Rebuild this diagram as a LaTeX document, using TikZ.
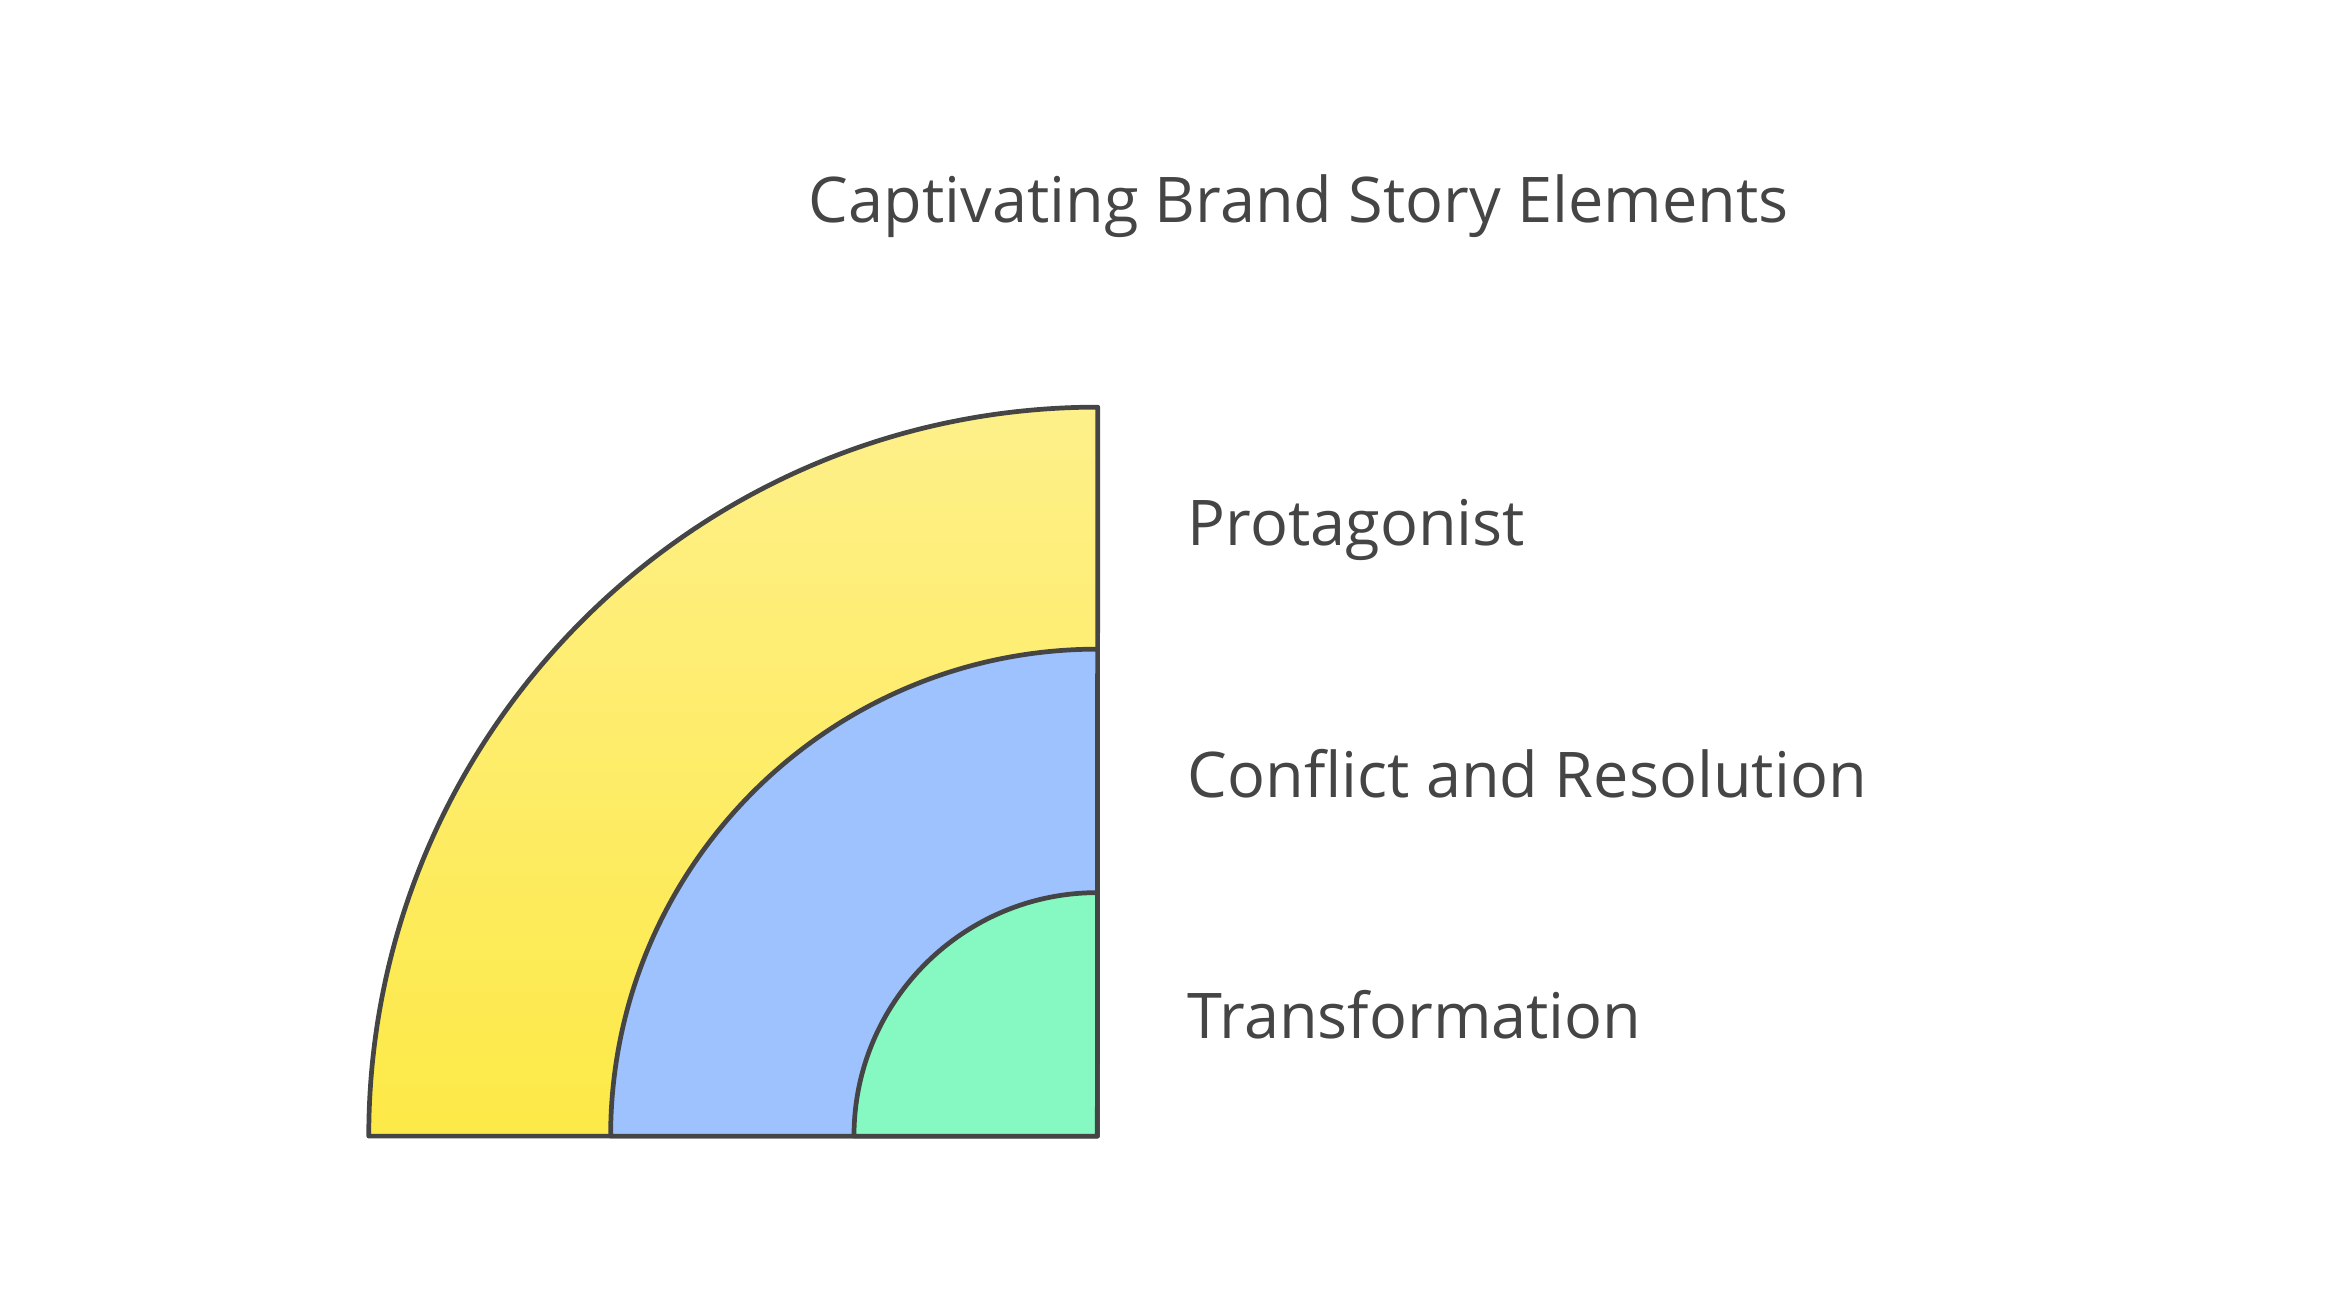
\documentclass[tikz,border=0pt]{standalone}
\usepackage{fontspec}
\setmainfont{Open Sans}
\usetikzlibrary{positioning}
\definecolor{inkg}{HTML}{454545}
\definecolor{ytop}{HTML}{FEF08A}
\definecolor{ybot}{HTML}{FDE946}
\definecolor{blueb}{HTML}{9EC2FE}
\definecolor{greenb}{HTML}{86F8C2}
\begin{document}
\begin{tikzpicture}[x=0.01cm, y=-0.01cm,
        ring/.style={draw = inkg, line width=0.9pt, line join=round},
        lbl/.style={anchor=west, text = inkg, font=\fontsize{12}{14}\selectfont, inner sep=0}
    ]
    \useasboundingbox (0,0) rectangle (1568,874);
    \coordinate (c) at (735,761);
    % quarter rings, outer to inner
    \path[ring, top color=ytop, bottom color=ybot] (c) -- ++(-488,0) arc[start angle=180, end angle=90, radius=4.88cm] -- cycle;
    \path[ring, fill=blueb] (c) -- ++(-326,0) arc[start angle=180, end angle=90, radius=3.26cm] -- cycle;
    \path[ring, fill=greenb] (c) -- ++(-163,0) arc[start angle=180, end angle=90, radius=1.63cm] -- cycle;
    \node[lbl, anchor=center] (title) at (870,138) {Captivating Brand Story Elements};
    \node[lbl] (prot) at (795,355) {Protagonist};
    \node[lbl] (conf) at (795,518) {Conflict and Resolution};
    \node[lbl] (trans) at (795,680) {Transformation};
\end{tikzpicture}
\end{document}
